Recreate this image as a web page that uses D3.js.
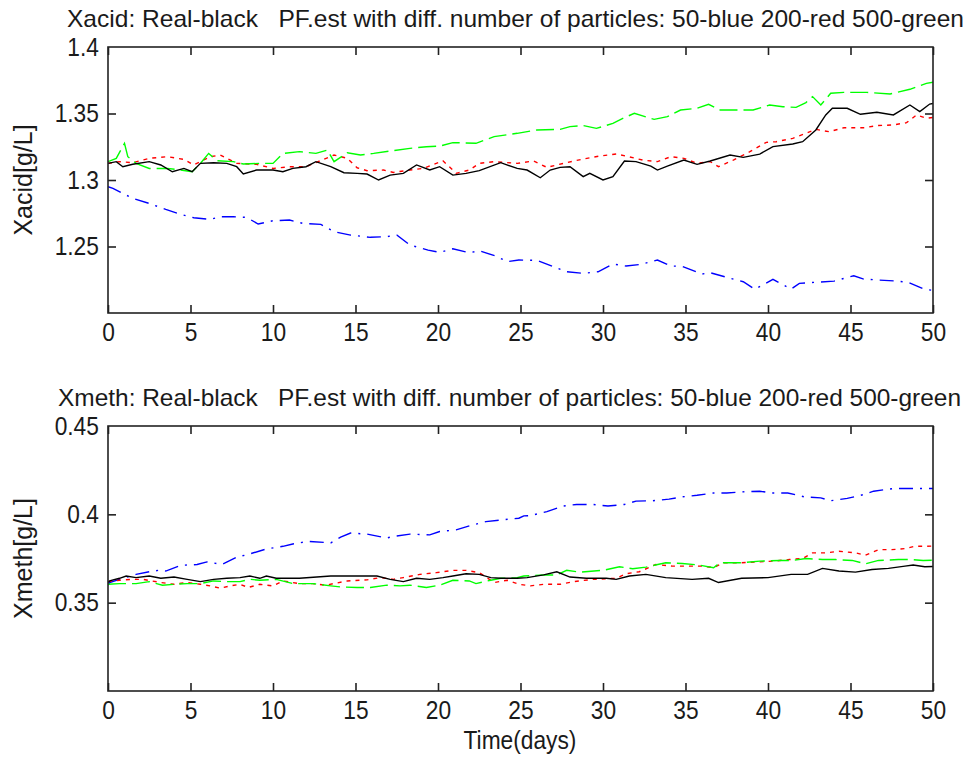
<!DOCTYPE html>
<html lang="en">
<head>
<meta charset="UTF-8">
<title>PF estimates</title>
<script src="https://d3js.org/d3.v7.min.js"></script>
<style>
  body { margin: 0; background: #fff; }
  text { font-family: "Liberation Sans", Arial, sans-serif; fill: #1a1a1a; white-space: pre; }
</style>
</head>
<body>
<svg></svg>
<script>
// ---------- data ----------
const xTicks = [0, 5, 10, 15, 20, 25, 30, 35, 40, 45, 50];
const acidTicks = [1.25, 1.3, 1.35, 1.4];
const methTicks = [0.35, 0.4, 0.45];

// Xacid, real (black)
const acidRealT = [0,0.5,0.9,1.5,2.5,3.2,3.9,4.6,5.1,5.6,6.4,7.2,7.8,8.2,9,10,10.6,11.2,12,12.6,13.5,14.3,15.1,15.7,16.4,17.1,17.9,18.7,19.5,20.1,20.9,21.7,22.5,23.8,24.8,25.4,26.2,26.8,27.4,28,28.8,29.2,30,30.6,31.3,32,32.9,33.3,33.9,34.9,35.7,36.5,37.7,38.5,39.5,40.3,41.5,42.1,42.9,43.5,43.9,44.8,45.6,46.6,47.6,48.6,49.2,49.8,50];
const acidRealV = [1.3125,1.3138,1.31,1.3118,1.3138,1.3113,1.3062,1.3087,1.3062,1.3125,1.313,1.3125,1.31,1.3045,1.3075,1.3075,1.3062,1.3087,1.31,1.3138,1.31,1.3055,1.305,1.3045,1.3,1.3037,1.305,1.3113,1.3075,1.31,1.3037,1.305,1.307,1.313,1.3087,1.3075,1.3017,1.3075,1.3095,1.31,1.3025,1.305,1.3,1.3025,1.3143,1.3138,1.3105,1.3075,1.3105,1.315,1.3118,1.3143,1.3188,1.317,1.3195,1.3251,1.3271,1.3288,1.3376,1.3489,1.3539,1.3539,1.3494,1.3509,1.3489,1.3564,1.3514,1.3571,1.3575];
// Xacid, 50 particles (blue)
const acidBlueT = [0,0.3,0.9,1.5,2.5,3.5,4.4,5.2,6.2,6.8,7.6,8.4,9.1,10,11,11.8,12.9,13.7,14.7,15.9,16.9,17.5,18.3,19.4,20.1,20.9,21.9,22.5,23.5,24.2,24.9,26,27,27.8,28.8,29.7,30.6,31.4,32.3,33.3,34.1,34.8,36,36.5,37.5,38.5,39.2,40.3,41.4,41.9,42.8,44,45.2,45.8,46.7,47.8,48.5,49.5,50];
const acidBlueV = [1.295,1.2937,1.2899,1.2862,1.2824,1.2779,1.2742,1.2716,1.2704,1.2724,1.2724,1.2719,1.2669,1.2694,1.2699,1.2674,1.2666,1.2611,1.2586,1.2569,1.2574,1.2586,1.2511,1.2473,1.2456,1.2483,1.2453,1.2468,1.2428,1.2386,1.2398,1.2396,1.2348,1.231,1.2298,1.231,1.2368,1.2353,1.2366,1.2398,1.2353,1.2351,1.2293,1.2303,1.2268,1.2235,1.2178,1.2253,1.218,1.2223,1.223,1.224,1.228,1.2255,1.2248,1.224,1.223,1.2178,1.217];
// Xacid, 200 particles (red)
const acidRedT = [0,0.7,1.5,2.5,3.6,4.6,5.2,6.2,6.8,7.8,9,10,11,12,13.7,14.5,15.1,15.7,16.7,17.3,18.3,19.1,20.3,21.1,21.9,22.5,23.4,24.8,25.8,26.6,27.6,28.8,29.8,30.8,31.4,32.4,33.3,34.1,34.9,35.7,36.5,37,37.9,38.9,39.9,40.5,41.5,42.3,42.9,43.7,44.6,45.8,46.6,47.6,48.4,49,49.6,50];
const acidRedV = [1.3125,1.3138,1.313,1.3163,1.3175,1.3155,1.3113,1.3175,1.3188,1.3125,1.3118,1.3087,1.31,1.31,1.3188,1.3163,1.3092,1.307,1.3075,1.3057,1.3075,1.3087,1.3145,1.305,1.3075,1.3125,1.3138,1.3125,1.3143,1.3095,1.3125,1.3158,1.318,1.3195,1.318,1.315,1.3138,1.3175,1.3163,1.3125,1.3138,1.31,1.315,1.3213,1.3283,1.3288,1.3313,1.3351,1.3381,1.3363,1.3393,1.3393,1.3409,1.3414,1.3431,1.3489,1.3464,1.347];
// Xacid, 500 particles (green)
const acidGreenT = [0,0.5,1,1.2,1.7,2.5,3.6,4.4,5.1,5.6,6.1,6.6,7.6,8.2,9.2,10,10.6,11.6,12.6,13.3,13.7,14.5,15.3,16.1,17.1,18.3,19.3,20.1,20.9,22.3,23.4,24.8,26,27.4,28,28.8,29.6,30.6,31.2,31.9,33.1,33.9,34.7,35.7,36.4,37.1,38.1,39.1,40.1,40.9,41.7,42.3,42.7,43.2,43.8,44.6,46,47.4,48.6,49.6,50];
const acidGreenV = [1.3138,1.3163,1.3276,1.3175,1.3125,1.3087,1.3087,1.3075,1.3062,1.3125,1.32,1.3145,1.3138,1.312,1.3125,1.3125,1.32,1.3213,1.32,1.3225,1.3138,1.3205,1.3188,1.32,1.3218,1.3238,1.325,1.3255,1.3281,1.3276,1.3326,1.3351,1.3376,1.3381,1.3401,1.3409,1.3388,1.3426,1.3464,1.3501,1.3456,1.3476,1.3526,1.3539,1.3569,1.3526,1.3526,1.3526,1.3564,1.3551,1.3546,1.3582,1.3627,1.3564,1.3652,1.3659,1.3659,1.3647,1.3682,1.3727,1.3735];

// Xmeth, real (black)
const methRealT = [0,0.1,0.7,1.1,1.7,2.5,3.2,4,4.8,5.6,6.4,7.2,8,8.6,9.2,9.6,10.2,11.6,13.5,14.9,16.3,17.1,17.9,18.7,19.5,20.3,20.9,21.7,22.5,23.2,23.8,24.8,25.4,26.4,27.2,28,29,30.2,30.8,31.6,32.6,33.8,35.4,36.4,37,38.4,40,41.4,42.4,43.3,44.3,45.3,46.3,47.3,48.3,48.8,49.5,50];
const methRealV = [0.3615,0.3623,0.3638,0.3651,0.3642,0.3651,0.3638,0.3645,0.3632,0.3619,0.3632,0.3638,0.3642,0.3651,0.3638,0.3651,0.3638,0.3638,0.3651,0.3651,0.3651,0.3632,0.3619,0.3638,0.3632,0.3642,0.3651,0.3664,0.366,0.3642,0.3638,0.3638,0.3642,0.3657,0.3675,0.3645,0.3638,0.3638,0.3632,0.3651,0.366,0.3642,0.3632,0.3638,0.3614,0.3638,0.3642,0.366,0.366,0.3694,0.3679,0.3673,0.3688,0.3694,0.3707,0.3713,0.3703,0.3705];
// Xmeth, 50 particles (blue)
const methBlueT = [0,0.1,0.7,1.7,2.5,3.2,3.5,4.4,5.4,6,6.9,7.8,8.6,9.6,10.6,11.2,12.1,13.1,13.5,14.1,14.7,15.7,16.9,17.3,18.3,19.5,20.1,21.1,22.1,22.9,23.8,24.9,25.2,25.6,26.6,27.6,28.4,29.4,30.3,31.3,32,33,34,34.8,35.7,36.7,37.5,38.4,39.5,40.2,41.2,42.2,43.2,43.8,44.8,45.8,46.4,47.6,48.5,49.4,50];
const methBlueV = [0.36,0.3614,0.3632,0.366,0.3675,0.3685,0.3679,0.3711,0.3716,0.3731,0.3716,0.3757,0.3776,0.3804,0.3819,0.3832,0.3847,0.3841,0.3838,0.3871,0.3894,0.3888,0.3866,0.3875,0.3888,0.3884,0.3903,0.3912,0.394,0.3959,0.3968,0.3978,0.3991,0.3993,0.4015,0.4047,0.4056,0.4056,0.4047,0.4056,0.4075,0.4077,0.4086,0.4099,0.4108,0.4121,0.4121,0.4127,0.4131,0.4121,0.4121,0.4099,0.4093,0.4077,0.409,0.4112,0.4131,0.4146,0.4146,0.4146,0.4146];
// Xmeth, 200 particles (red)
const methRedT = [0,0.7,1.5,2.1,3.2,4,4.8,5.6,6.2,6.8,7.4,8,8.5,9.2,10,10.6,11.6,12.4,13.2,14.5,15.7,16.5,17.3,17.9,18.9,19.9,20.9,21.7,22.5,23.4,24.2,24.9,25.6,26.4,27.4,28.2,29.4,30.8,31.4,32.2,33.2,34.2,35.2,36,36.7,37.3,38.4,39.5,40.3,41.3,42.1,42.7,43.5,44.3,45.3,45.9,46.7,47.5,48.3,48.9,49.5,50];
const methRedV = [0.3619,0.3627,0.3632,0.3632,0.3614,0.3604,0.3614,0.3604,0.3595,0.3582,0.3595,0.3604,0.3586,0.3604,0.3595,0.3623,0.3608,0.3608,0.3599,0.3623,0.3629,0.3642,0.3632,0.3642,0.366,0.367,0.3683,0.3683,0.367,0.3614,0.3627,0.3604,0.3595,0.3604,0.3604,0.3619,0.3632,0.3638,0.3664,0.3675,0.3716,0.3707,0.3707,0.3707,0.3698,0.3726,0.3726,0.3731,0.3735,0.3744,0.375,0.3782,0.3782,0.3791,0.3782,0.3769,0.38,0.38,0.3806,0.3819,0.3819,0.382];
// Xmeth, 500 particles (green)
const methGreenT = [0,0.7,1.7,2.5,3.3,4,4.8,5.6,6.4,7.2,8,8.6,9.2,10.2,11.2,12.4,13.5,14.1,15.1,15.9,16.9,17.7,18.3,19.3,20.1,20.9,21.9,22.3,23.2,23.8,24.8,25.2,26.4,27.2,27.8,28.6,30,31,31.8,32.6,33.8,34.8,35.8,36.7,37.1,38.4,39.5,40.7,41.5,42.3,43.3,44.1,45.1,45.9,46.7,47.9,48.7,49.4,50];
const methGreenV = [0.3604,0.3608,0.3608,0.3619,0.3599,0.3604,0.3608,0.3608,0.3623,0.3619,0.3619,0.3632,0.3627,0.3632,0.3608,0.3608,0.3595,0.3589,0.3586,0.3586,0.3599,0.3595,0.3599,0.3586,0.3599,0.3627,0.3623,0.3608,0.3627,0.3638,0.3642,0.3651,0.3657,0.3657,0.3683,0.3673,0.3683,0.3703,0.3692,0.3701,0.3726,0.3722,0.3713,0.3698,0.3726,0.3726,0.3735,0.3739,0.3739,0.375,0.3744,0.3744,0.3739,0.372,0.3739,0.3744,0.3744,0.3739,0.374];

// ---------- drawing ----------
const width = 976, height = 761;
const svg = d3.select("svg").attr("width", width).attr("height", height);

const x = d3.scaleLinear().domain([0, 50]).range([108, 933]);

// horizontal text in the reference is a bit narrow, so squeeze it
const squeeze = "scale(0.91,1)";

function zip(ts, vs) {
    return ts.map((t, i) => [t, vs[i]]);
}

function panel(opt) {
    const y = d3.scaleLinear().domain(opt.yDomain).range(opt.yRange);
    const g = svg.append("g");
    const top = opt.yRange[1], bottom = opt.yRange[0];

    const clipId = "clip" + opt.id;
    svg.append("clipPath").attr("id", clipId)
        .append("rect")
        .attr("x", x(0)).attr("y", top)
        .attr("width", x(50) - x(0)).attr("height", bottom - top);

    // series
    const line = d3.line().x(d => x(d[0])).y(d => y(d[1]));
    opt.series.forEach(s => {
        g.append("path")
            .datum(zip(s.t, s.v))
            .attr("clip-path", "url(#" + clipId + ")")
            .attr("d", line)
            .attr("fill", "none")
            .attr("stroke", s.color)
            .attr("stroke-width", 1.4)
            .attr("stroke-dasharray", s.dash);
    });

    // ticks on all four sides, pointing inward
    const axes = [
        [d3.axisBottom(x).tickValues(xTicks).tickFormat(d3.format("d")), "translate(0," + bottom + ")", true],
        [d3.axisTop(x).tickValues(xTicks).tickFormat(""), "translate(0," + top + ")", false],
        [d3.axisLeft(y).tickValues(opt.yTicks).tickFormat(d => String(d)), "translate(" + x(0) + ",0)", true],
        [d3.axisRight(y).tickValues(opt.yTicks).tickFormat(""), "translate(" + x(50) + ",0)", false]
    ];
    axes.forEach(([ax, tr, labels]) => {
        const a = g.append("g")
            .attr("transform", tr)
            .call(ax.tickSize(-8).tickPadding(labels ? 10 : 0));
        a.select(".domain").remove();
        a.selectAll("line").attr("stroke", "#222").attr("stroke-width", 1.6);
        a.selectAll("text")
            .style("font-size", "25px")
            .attr("fill", "#1a1a1a")
            .attr("transform", squeeze);
    });
    g.selectAll("g.tick").filter(d => d === 1.4 || d === 0.45)
        .selectAll("line").remove();

    // box
    g.append("rect")
        .attr("x", x(0)).attr("y", top)
        .attr("width", x(50) - x(0)).attr("height", bottom - top)
        .attr("fill", "none")
        .attr("stroke", "#222")
        .attr("stroke-width", 1.6);

    // title
    g.append("text")
        .attr("x", opt.titleX).attr("y", top - 20)
        .attr("textLength", opt.titleLen)
        .attr("lengthAdjust", "spacingAndGlyphs")
        .attr("xml:space", "preserve")
        .style("font-size", "24px")
        .text(opt.title);

    // y label
    g.append("text")
        .attr("transform", "translate(32," + (top + bottom) / 2 + ") rotate(-90)")
        .attr("text-anchor", "middle")
        .style("font-size", "25px")
        .text(opt.yLabel);
}

panel({
    id: "acid",
    yDomain: [1.2, 1.4], yRange: [313, 47], yTicks: acidTicks,
    title: "Xacid: Real-black   PF.est with diff. number of particles: 50-blue 200-red 500-green",
    titleX: 67, titleLen: 897,
    yLabel: "Xacid[g/L]",
    series: [
        {t: acidBlueT, v: acidBlueV, color: "#0000ff", dash: "14,7,2,7"},
        {t: acidRedT, v: acidRedV, color: "#ff0000", dash: "4,5"},
        {t: acidGreenT, v: acidGreenV, color: "#00ff00", dash: "18,6"},
        {t: acidRealT, v: acidRealV, color: "#000000", dash: null}
    ]
});

panel({
    id: "meth",
    yDomain: [0.3, 0.45], yRange: [691, 426], yTicks: methTicks,
    title: "Xmeth: Real-black   PF.est with diff. number of particles: 50-blue 200-red 500-green",
    titleX: 58, titleLen: 903,
    yLabel: "Xmeth[g/L]",
    series: [
        {t: methBlueT, v: methBlueV, color: "#0000ff", dash: "14,7,2,7"},
        {t: methRedT, v: methRedV, color: "#ff0000", dash: "4,5"},
        {t: methGreenT, v: methGreenV, color: "#00ff00", dash: "18,6"},
        {t: methRealT, v: methRealV, color: "#000000", dash: null}
    ]
});

// x label
svg.append("text")
    .attr("x", 520).attr("y", 749)
    .attr("text-anchor", "middle")
    .attr("transform", "translate(" + 520 * (1 - 0.91) + ",0) " + squeeze)
    .style("font-size", "25px")
    .text("Time(days)");
</script>
</body>
</html>
